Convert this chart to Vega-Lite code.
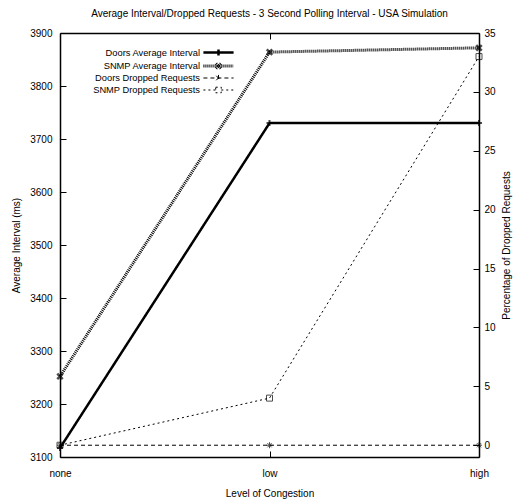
{
  "$schema": "https://vega.github.io/schema/vega-lite/v6.json",
  "width": 419,
  "height": 424,
  "autosize": "none",
  "padding": {"left": 60, "top": 33, "right": 41, "bottom": 46},
  "title": {
    "text": "Average Interval/Dropped Requests - 3 Second Polling Interval - USA Simulation",
    "fontSize": 10,
    "fontWeight": "normal",
    "font": "Liberation Sans",
    "color": "black",
    "offset": 9
  },
  "config": {
    "view": {"stroke": null},
    "font": "Liberation Sans",
    "axis": {
      "labelFont": "Liberation Sans",
      "titleFont": "Liberation Sans",
      "labelFontSize": 10,
      "titleFontSize": 10,
      "titleFontWeight": "normal",
      "labelColor": "black",
      "titleColor": "black",
      "domainColor": "black",
      "domainWidth": 1.5,
      "tickColor": "black",
      "tickWidth": 1,
      "tickSize": -6,
      "labelPadding": 13,
      "grid": false
    },
    "legend": {
      "labelFont": "Liberation Sans",
      "labelFontSize": 9.3,
      "labelColor": "black"
    }
  },
  "data": {
    "values": [
      {"level": "none", "series": "Doors Average Interval", "measure": "interval", "value": 3117},
      {"level": "low", "series": "Doors Average Interval", "measure": "interval", "value": 3730},
      {"level": "high", "series": "Doors Average Interval", "measure": "interval", "value": 3730},
      {"level": "none", "series": "SNMP Average Interval", "measure": "interval", "value": 3252},
      {"level": "low", "series": "SNMP Average Interval", "measure": "interval", "value": 3864},
      {"level": "high", "series": "SNMP Average Interval", "measure": "interval", "value": 3872},
      {"level": "none", "series": "Doors Dropped Requests", "measure": "dropped", "value": 0},
      {"level": "low", "series": "Doors Dropped Requests", "measure": "dropped", "value": 0},
      {"level": "high", "series": "Doors Dropped Requests", "measure": "dropped", "value": 0},
      {"level": "none", "series": "SNMP Dropped Requests", "measure": "dropped", "value": 0},
      {"level": "low", "series": "SNMP Dropped Requests", "measure": "dropped", "value": 4},
      {"level": "high", "series": "SNMP Dropped Requests", "measure": "dropped", "value": 33}
    ]
  },
  "layer": [
    {
      "transform": [{"filter": "datum.measure === 'interval'"}],
      "encoding": {
        "x": {
          "field": "level",
          "type": "ordinal",
          "sort": ["none", "low", "high"],
          "scale": {"type": "point", "padding": 0, "domain": ["none", "low", "high"]},
          "axis": {"orient": "bottom", "title": "Level of Congestion", "labelAngle": 0, "titlePadding": 10, "labelPadding": 17}
        },
        "y": {
          "field": "value",
          "type": "quantitative",
          "scale": {"domain": [3100, 3900], "nice": false, "zero": false},
          "axis": {"orient": "left", "title": "Average Interval (ms)", "format": "d", "values": [3100, 3200, 3300, 3400, 3500, 3600, 3700, 3800, 3900], "titlePadding": 8, "labelPadding": 14}
        }
      },
      "layer": [
        {
          "mark": {"type": "line", "color": "black"},
          "encoding": {
            "strokeDash": {
              "field": "series",
              "type": "nominal",
              "scale": {
                "domain": ["Doors Average Interval", "SNMP Average Interval", "Doors Dropped Requests", "SNMP Dropped Requests"],
                "range": [[1, 0], [1, 1], [4, 3], [2, 3]]
              },
              "legend": {
                "title": null,
                "orient": "none",
                "legendX": 41,
                "legendY": 12.5,
                "padding": 0,
                "symbolType": "stroke",
                "symbolSize": 125,
                "symbolStrokeColor": "black",
                "symbolFillColor": "transparent",
                "symbolOffset": 110,
                "labelAlign": "right",
                "labelOffset": -26,
                "rowPadding": -1.5,
                "encode": {
                  "symbols": {
                    "update": {
                      "shape": {"signal": "datum.value === 'Doors Average Interval' ? 'M-2.7,0H2.7M0,-0.55V0.55' : datum.value === 'SNMP Average Interval' ? 'M-2.7,0H2.7M-0.45,-0.45L0.45,0.45M-0.45,0.45L0.45,-0.45' : datum.value === 'Doors Dropped Requests' ? 'M-2.7,0H2.7M0,-0.55V0.55M-0.4,-0.4L0.4,0.4M-0.4,0.4L0.4,-0.4' : 'M-2.7,0H-0.5M0.5,0H2.7M-0.5,-0.5H0.5V0.5H-0.5Z'"},
                      "strokeWidth": {"signal": "datum.value === 'Doors Average Interval' ? 2.5 : datum.value === 'SNMP Average Interval' ? 3 : 1"},
                      "strokeJoin": {"value": "round"},
                      "stroke": {"value": "black"}
                    }
                  }
                }
              }
            },
            "strokeWidth": {
              "field": "series",
              "type": "nominal",
              "scale": {
                "type": "ordinal",
                "domain": ["Doors Average Interval", "SNMP Average Interval", "Doors Dropped Requests", "SNMP Dropped Requests"],
                "range": [2.5, 3, 1, 1]
              },
              "legend": null
            }
          }
        },
        {
          "transform": [{"filter": "datum.series === 'Doors Average Interval'"}],
          "mark": {"type": "point", "filled": false, "color": "black", "size": 36, "strokeWidth": 2, "shape": "M-1,0H1M0,-1V1"}
        },
        {
          "transform": [{"filter": "datum.series === 'SNMP Average Interval'"}],
          "mark": {"type": "point", "filled": false, "color": "black", "size": 30, "strokeWidth": 2.5, "shape": "M-1,-1L1,1M-1,1L1,-1"}
        }
      ]
    },
    {
      "transform": [{"filter": "datum.measure === 'dropped'"}],
      "encoding": {
        "x": {
          "field": "level",
          "type": "ordinal",
          "sort": ["none", "low", "high"],
          "scale": {"type": "point", "padding": 0, "domain": ["none", "low", "high"]},
          "axis": {"orient": "top", "title": null, "labels": false}
        },
        "y": {
          "field": "value",
          "type": "quantitative",
          "scale": {"domain": [-1, 35], "nice": false, "zero": false},
          "axis": {"orient": "right", "title": "Percentage of Dropped Requests", "titleAngle": 270, "values": [0, 5, 10, 15, 20, 25, 30, 35], "titlePadding": 16, "labelPadding": 11}
        }
      },
      "layer": [
        {
          "mark": {"type": "line", "color": "black"},
          "encoding": {
            "strokeDash": {
              "field": "series",
              "type": "nominal",
              "scale": {
                "domain": ["Doors Average Interval", "SNMP Average Interval", "Doors Dropped Requests", "SNMP Dropped Requests"],
                "range": [[1, 0], [1, 1], [4, 3], [2, 3]]
              },
              "legend": null
            },
            "strokeWidth": {
              "field": "series",
              "type": "nominal",
              "scale": {
                "type": "ordinal",
                "domain": ["Doors Average Interval", "SNMP Average Interval", "Doors Dropped Requests", "SNMP Dropped Requests"],
                "range": [2.5, 3, 1, 1]
              },
              "legend": null
            }
          }
        },
        {
          "transform": [{"filter": "datum.series === 'Doors Dropped Requests'"}],
          "mark": {"type": "point", "filled": false, "color": "black", "size": 36, "strokeWidth": 1, "shape": "M-1,0H1M0,-1V1M-0.7,-0.7L0.7,0.7M-0.7,0.7L0.7,-0.7"}
        },
        {
          "transform": [{"filter": "datum.series === 'SNMP Dropped Requests'"}],
          "mark": {"type": "point", "filled": false, "color": "black", "size": 36, "strokeWidth": 1, "shape": "square"}
        }
      ]
    }
  ],
  "resolve": {"scale": {"y": "independent"}, "axis": {"x": "independent"}}
}
